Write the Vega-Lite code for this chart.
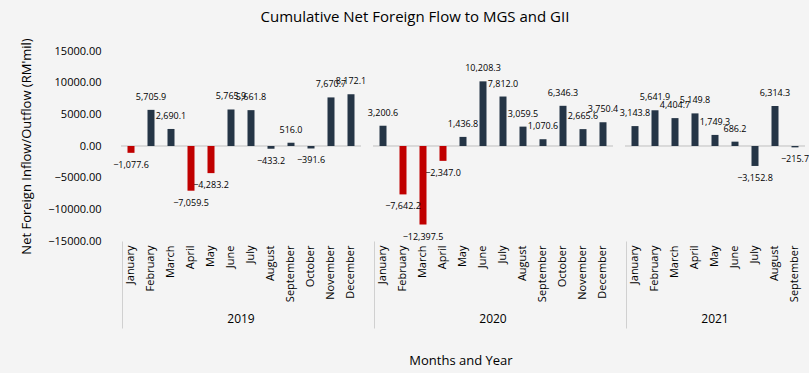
{
  "$schema": "https://vega.github.io/schema/vega-lite/v6.json",
  "background": "#f4f4f4",
  "padding": {"left": 20, "top": 9, "right": 5, "bottom": 5},
  "config": {"view": {"stroke": null}},
  "title": {"text": "Cumulative Net Foreign Flow to MGS and GII", "font": "Open Sans", "fontSize": 15, "fontWeight": "normal", "color": "#000000", "anchor": "middle", "offset": 13},
  "data": {"values": [
    {"year": "2019", "month": "January", "value": -1077.6, "group": "Major outflow"},
    {"year": "2019", "month": "February", "value": 5705.9, "group": "Other"},
    {"year": "2019", "month": "March", "value": 2690.1, "group": "Other"},
    {"year": "2019", "month": "April", "value": -7059.5, "group": "Major outflow"},
    {"year": "2019", "month": "May", "value": -4283.2, "group": "Major outflow"},
    {"year": "2019", "month": "June", "value": 5765.9, "group": "Other"},
    {"year": "2019", "month": "July", "value": 5661.8, "group": "Other"},
    {"year": "2019", "month": "August", "value": -433.2, "group": "Other"},
    {"year": "2019", "month": "September", "value": 516.0, "group": "Other"},
    {"year": "2019", "month": "October", "value": -391.6, "group": "Other"},
    {"year": "2019", "month": "November", "value": 7670.7, "group": "Other"},
    {"year": "2019", "month": "December", "value": 8172.1, "group": "Other"},
    {"year": "2020", "month": "January", "value": 3200.6, "group": "Other"},
    {"year": "2020", "month": "February", "value": -7642.2, "group": "Major outflow"},
    {"year": "2020", "month": "March", "value": -12397.5, "group": "Major outflow"},
    {"year": "2020", "month": "April", "value": -2347.0, "group": "Major outflow"},
    {"year": "2020", "month": "May", "value": 1436.8, "group": "Other"},
    {"year": "2020", "month": "June", "value": 10208.3, "group": "Other"},
    {"year": "2020", "month": "July", "value": 7812.0, "group": "Other"},
    {"year": "2020", "month": "August", "value": 3059.5, "group": "Other"},
    {"year": "2020", "month": "September", "value": 1070.6, "group": "Other"},
    {"year": "2020", "month": "October", "value": 6346.3, "group": "Other"},
    {"year": "2020", "month": "November", "value": 2665.6, "group": "Other"},
    {"year": "2020", "month": "December", "value": 3750.4, "group": "Other"},
    {"year": "2021", "month": "January", "value": 3143.8, "group": "Other"},
    {"year": "2021", "month": "February", "value": 5641.9, "group": "Other"},
    {"year": "2021", "month": "March", "value": 4404.7, "group": "Other"},
    {"year": "2021", "month": "April", "value": 5149.8, "group": "Other"},
    {"year": "2021", "month": "May", "value": 1749.3, "group": "Other"},
    {"year": "2021", "month": "June", "value": 686.2, "group": "Other"},
    {"year": "2021", "month": "July", "value": -3152.8, "group": "Other"},
    {"year": "2021", "month": "August", "value": 6314.3, "group": "Other"},
    {"year": "2021", "month": "September", "value": -215.7, "group": "Other"}
  ]},
  "facet": {
    "column": {
      "field": "year", "type": "ordinal",
      "header": {
        "title": "Months and Year", "titleOrient": "bottom", "titleFont": "Open Sans", "titleFontSize": 13, "titleFontWeight": "normal", "titleColor": "#000000", "titlePadding": 16,
        "labelOrient": "bottom", "labelFont": "Open Sans", "labelFontSize": 12, "labelColor": "#000000", "labelPadding": -15
      }
    }
  },
  "spacing": 0,
  "resolve": {"scale": {"x": "independent"}},
  "spec": {
    "width": {"step": 20},
    "height": 190,
    "encoding": {
      "x": {
        "field": "month", "type": "ordinal", "title": null,
        "sort": ["January","February","March","April","May","June","July","August","September","October","November","December"],
        "axis": {
          "labelAngle": -90, "labelFont": "Open Sans", "labelFontSize": 11, "labelColor": "#000000",
          "domain": false, "ticks": true, "tickSize": 87, "bandPosition": 0,
          "tickColor": {"condition": {"test": "datum.value === 'January'", "value": "#d0d0d0"}, "value": "transparent"},
          "labelPadding": -83
        }
      },
      "y": {
        "field": "value", "type": "quantitative",
        "scale": {"domain": [-15000, 15000], "nice": false},
        "title": "Net Foreign Inflow/Outflow (RM'mil)",
        "axis": {"values": [-15000, -10000, -5000, 0, 5000, 10000, 15000], "labelOverlap": false, "format": ".2f", "grid": false, "domain": false, "ticks": false, "labelPadding": 12, "labelFont": "Open Sans", "labelFontSize": 11, "labelColor": "#000000", "titleFont": "Open Sans", "titleFontSize": 13, "titleFontWeight": "normal", "titleColor": "#000000", "titlePadding": 14}
      }
    },
    "layer": [
      {
        "mark": {"type": "rule", "color": "#d9d9d9", "strokeWidth": 1},
        "encoding": {"y": {"datum": 0, "type": "quantitative"}, "x": {"value": 0}, "x2": {"value": "width"}}
      },
      {
        "mark": {"type": "bar", "size": 7},
        "encoding": {
          "color": {"field": "group", "type": "nominal", "scale": {"domain": ["Major outflow", "Other"], "range": ["#c00000", "#253546"]}, "legend": null}
        }
      },
      {
        "transform": [{"filter": "datum.value >= 0"}],
        "mark": {"type": "text", "font": "Open Sans", "fontSize": 9, "color": "#000000", "baseline": "bottom", "dy": -8},
        "encoding": {"text": {"field": "value", "type": "quantitative", "format": ",.1f"}}
      },
      {
        "transform": [{"filter": "datum.value < 0"}],
        "mark": {"type": "text", "font": "Open Sans", "fontSize": 9, "color": "#000000", "baseline": "top", "dy": 8},
        "encoding": {"text": {"field": "value", "type": "quantitative", "format": ",.1f"}}
      }
    ]
  }
}
